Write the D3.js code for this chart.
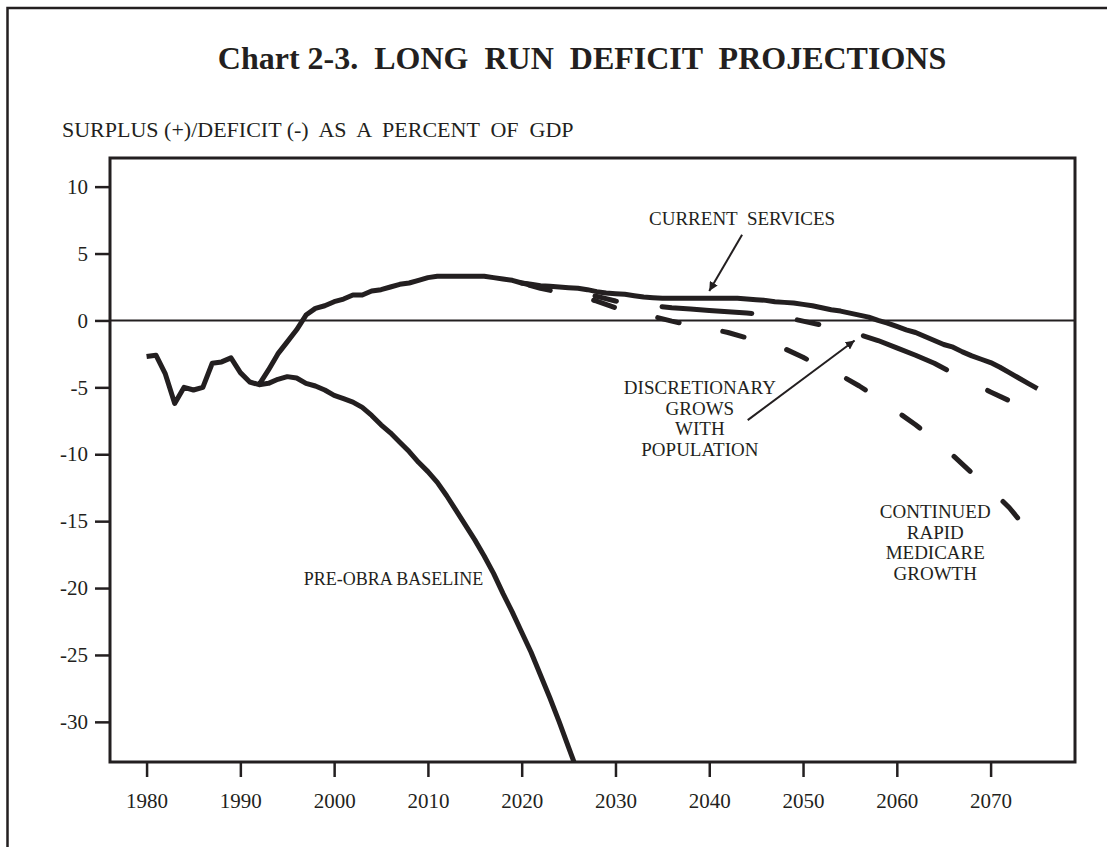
<!DOCTYPE html>
<html>
<head>
<meta charset="utf-8">
<script src="https://cdn.jsdelivr.net/npm/d3@7"></script>
<style>
    body { margin: 0; background: #ffffff; }
    text { font-family: "Liberation Serif", "Times New Roman", serif; fill: #231f20; white-space: pre; }
</style>
</head>
<body>
<svg id="chart" width="1107" height="847"></svg>
<script>
// years and values (surplus/deficit as % of GDP)
let current_years = d3.range(1980, 2076);
let current_values = [
    -2.7, -2.6, -4.0, -6.2, -5.0, -5.2, -5.0, -3.2, -3.1, -2.8,
    -3.9, -4.6, -4.8, -3.7, -2.5, -1.6, -0.7, 0.4, 0.9, 1.1,
    1.4, 1.6, 1.9, 1.9, 2.2, 2.3, 2.5, 2.7, 2.8, 3.0,
    3.2, 3.3, 3.3, 3.3, 3.3, 3.3, 3.3, 3.2, 3.1, 3.0,
    2.8, 2.7, 2.6, 2.55, 2.5, 2.45, 2.4, 2.3, 2.15, 2.05,
    2.0, 1.95, 1.85, 1.75, 1.7, 1.65, 1.65, 1.65, 1.65, 1.65,
    1.65, 1.65, 1.65, 1.65, 1.6, 1.55, 1.5, 1.4, 1.35, 1.3,
    1.2, 1.1, 0.95, 0.8, 0.7, 0.55, 0.4, 0.25, 0.0, -0.2,
    -0.45, -0.7, -0.9, -1.2, -1.5, -1.8, -2.0, -2.35, -2.65, -2.9,
    -3.15, -3.5, -3.9, -4.3, -4.7, -5.1
];

let baseline_years = d3.range(1992, 2027);
let baseline_values = [
    -4.8, -4.7, -4.4, -4.2, -4.3, -4.7, -4.9, -5.2, -5.6, -5.85,
    -6.1, -6.5, -7.1, -7.8, -8.4, -9.1, -9.8, -10.6, -11.3, -12.1,
    -13.1, -14.2, -15.3, -16.4, -17.6, -18.9, -20.4, -21.8, -23.3, -24.8,
    -26.5, -28.2, -30.0, -31.9, -33.8
];

let discretionary_years = d3.range(2020, 2073, 2);
let discretionary_values = [
    2.8, 2.5, 2.3, 2.05, 1.8, 1.45, 1.25, 1.1, 0.95, 0.85,
    0.75, 0.65, 0.55, 0.45, 0.25, -0.05, -0.35, -0.65, -1.05, -1.5,
    -2.05, -2.6, -3.2, -3.95, -4.6, -5.35, -6.0
];

let medicare_years = d3.range(2020, 2075, 2);
let medicare_values = [
    2.8, 2.4, 2.1, 1.8, 1.45, 0.95, 0.6, 0.3, -0.05, -0.35,
    -0.6, -0.9, -1.3, -1.7, -2.1, -2.75, -3.5, -4.1, -4.9, -5.8,
    -6.8, -7.8, -8.9, -10.1, -11.4, -12.6, -14.0, -15.7
];

let x_ticks = [1980, 1990, 2000, 2010, 2020, 2030, 2040, 2050, 2060, 2070];
let y_ticks = [10, 5, 0, -5, -10, -15, -20, -25, -30];

function zip(years, values) {
    return years.map(function(d, i) { return { year: d, value: values[i] }; });
}

function load_chart(svg_name) {

    let chart = d3.select(svg_name);
    let ink = "#231f20";
    let left = 110, right = 1075, top = 158, bottom = 762;

    // page border
    chart.append("rect")
        .attr("x", 7.5).attr("y", 8)
        .attr("width", 1115).attr("height", 860)
        .attr("fill", "none")
        .attr("stroke", ink)
        .attr("stroke-width", 2.5);

    // scales
    let x = d3.scaleLinear()
        .domain([1976.1, 2079])
        .range([left, right]);
    let y = d3.scaleLinear()
        .domain([-33.0, 12.14])
        .range([bottom, top]);

    // titles
    chart.append("text")
        .text("Chart 2-3.  LONG  RUN  DEFICIT  PROJECTIONS")
        .attr("x", 582)
        .attr("y", 69)
        .style("font-size", "32px")
        .attr("font-weight", "bold")
        .style("text-anchor", "middle");

    chart.append("text")
        .text("SURPLUS (+)/DEFICIT (-)  AS  A  PERCENT  OF  GDP")
        .attr("x", 62)
        .attr("y", 137)
        .style("font-size", "22px");

    // axes (plain hyphen for negatives, as in the original)
    let plain = function(d) { return String(d); };

    let xAxis = d3.axisBottom(x)
        .tickValues(x_ticks)
        .tickFormat(plain)
        .tickSize(15);
    let xAxisGroup = chart.append("g")
        .attr("transform", "translate(0," + bottom + ")")
        .call(xAxis);
    xAxisGroup.select(".domain").remove();
    xAxisGroup.selectAll("line").attr("stroke", ink).attr("stroke-width", 2.5);
    xAxisGroup.selectAll("text")
        .attr("y", 46).attr("dy", 0)
        .style("font-size", "21px")
        .style("font-family", "Liberation Serif")
        .attr("fill", ink);

    let yAxis = d3.axisLeft(y)
        .tickValues(y_ticks)
        .tickFormat(plain)
        .tickSize(15)
        .tickPadding(7);
    let yAxisGroup = chart.append("g")
        .attr("transform", "translate(" + left + ",0)")
        .call(yAxis);
    yAxisGroup.select(".domain").remove();
    yAxisGroup.selectAll("line").attr("stroke", ink).attr("stroke-width", 2.5);
    yAxisGroup.selectAll("text")
        .style("font-size", "21px")
        .style("font-family", "Liberation Serif")
        .attr("fill", ink);

    // zero line
    chart.append("line")
        .attr("x1", left).attr("x2", right)
        .attr("y1", y(0)).attr("y2", y(0))
        .attr("stroke", ink)
        .attr("stroke-width", 2);

    // clip the lines to the plot area
    chart.append("clipPath").attr("id", "plot-clip")
        .append("rect")
        .attr("x", left).attr("y", top)
        .attr("width", right - left).attr("height", bottom - top);

    let line = d3.line()
        .x(function(d) { return x(d.year); })
        .y(function(d) { return y(d.value); });

    let series = [
        { name: "medicare", data: zip(medicare_years, medicare_values), dash: "22 44.5", offset: 59 },
        { name: "discretionary", data: zip(discretionary_years, discretionary_values), dash: "90 46 22 46", offset: 61.5 },
        { name: "baseline", data: zip(baseline_years, baseline_values), dash: null, offset: 0 },
        { name: "current", data: zip(current_years, current_values), dash: null, offset: 0 }
    ];

    chart.append("g")
        .attr("clip-path", "url(#plot-clip)")
        .selectAll("path")
        .data(series)
        .enter()
        .append("path")
        .attr("d", function(d) { return line(d.data); })
        .attr("fill", "none")
        .attr("stroke", ink)
        .attr("stroke-width", 5)
        .attr("stroke-linejoin", "round")
        .attr("stroke-linecap", function(d) { return d.dash ? "round" : "butt"; })
        .attr("stroke-dasharray", function(d) { return d.dash; })
        .attr("stroke-dashoffset", function(d) { return d.offset; });

    // plot frame
    chart.append("rect")
        .attr("x", left).attr("y", top)
        .attr("width", right - left).attr("height", bottom - top)
        .attr("fill", "none")
        .attr("stroke", ink)
        .attr("stroke-width", 3);

    // annotations (placed in data units)
    let labels = [
        { lines: ["CURRENT  SERVICES"], year: 2043.5, value: 7.1, anchor: "middle", size: 19 },
        { lines: ["DISCRETIONARY", "GROWS", "WITH", "POPULATION"], year: 2039.0, value: -5.5, anchor: "middle", size: 19 },
        { lines: ["CONTINUED", "RAPID", "MEDICARE", "GROWTH"], year: 2064.1, value: -14.8, anchor: "middle", size: 19 },
        { lines: ["PRE-OBRA BASELINE"], year: 2015.9, value: -19.8, anchor: "end", size: 18 }
    ];

    labels.forEach(function(l) {
        let t = chart.append("text")
            .attr("x", x(l.year))
            .attr("y", y(l.value))
            .style("font-size", l.size + "px")
            .style("text-anchor", l.anchor);
        l.lines.forEach(function(s, i) {
            t.append("tspan")
                .attr("x", x(l.year))
                .attr("dy", i === 0 ? 0 : 20.5)
                .text(s);
        });
    });

    chart.append("defs").append("marker")
        .attr("id", "head")
        .attr("viewBox", "0 0 10 10")
        .attr("refX", 10).attr("refY", 5)
        .attr("markerWidth", 9).attr("markerHeight", 9)
        .attr("markerUnits", "userSpaceOnUse")
        .attr("orient", "auto")
        .append("path")
        .attr("d", "M0,0 L10,5 L0,10 z")
        .attr("fill", ink);

    let arrows = [
        { from: [2043.5, 6.4], to: [2040.0, 2.2] },
        { from: [2044.1, -7.45], to: [2055.5, -1.5] }
    ];

    chart.selectAll("arrow")
        .data(arrows)
        .enter()
        .append("line")
        .attr("x1", function(d) { return x(d.from[0]); })
        .attr("y1", function(d) { return y(d.from[1]); })
        .attr("x2", function(d) { return x(d.to[0]); })
        .attr("y2", function(d) { return y(d.to[1]); })
        .attr("stroke", ink)
        .attr("stroke-width", 2)
        .attr("marker-end", "url(#head)");

    return { chart: chart, x_scale: x, y_scale: y };
}

load_chart("#chart");
</script>
</body>
</html>
